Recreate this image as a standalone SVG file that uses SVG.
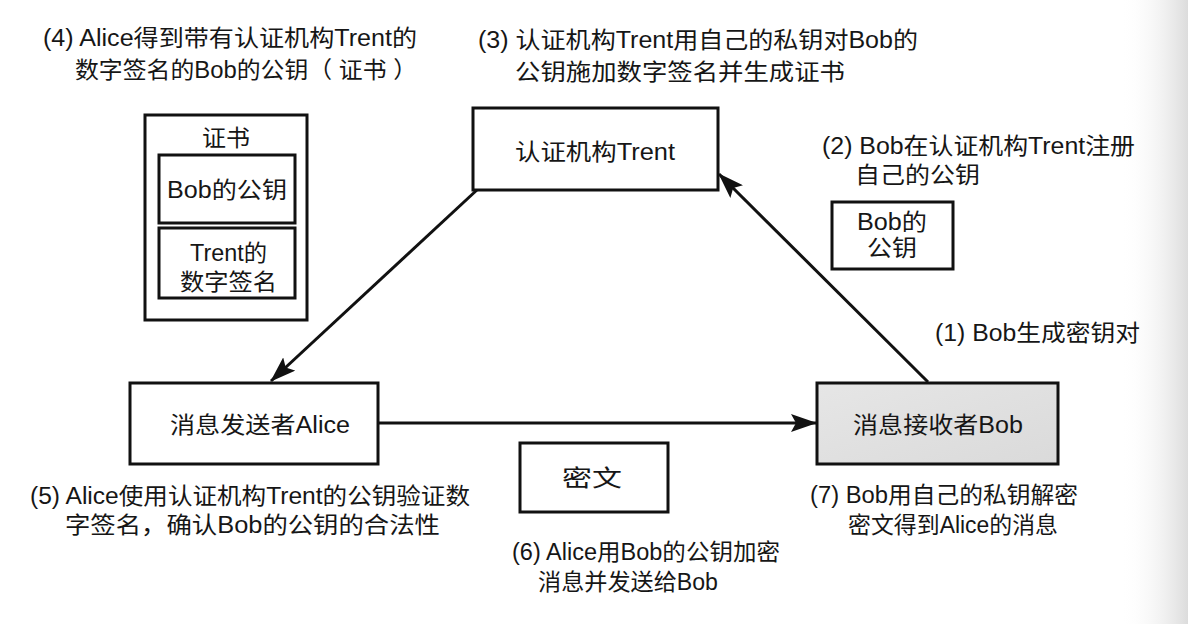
<svg xmlns="http://www.w3.org/2000/svg" width="1188" height="624" viewBox="0 0 1188 624">
<defs>
<linearGradient id="edge" x1="0" y1="0" x2="1" y2="0">
<stop offset="0" stop-color="#ffffff" stop-opacity="0"/>
<stop offset="1" stop-color="#dcdcdc"/>
</linearGradient>
<linearGradient id="gray" x1="0" y1="0" x2="1" y2="1">
<stop offset="0" stop-color="#e6e6e6"/>
<stop offset="1" stop-color="#dadada"/>
</linearGradient>
<marker id="ah" viewBox="0 0 26 18" refX="25" refY="9" markerWidth="26" markerHeight="18" markerUnits="userSpaceOnUse" orient="auto">
<path d="M0,0 L26,9 L0,18 L5,9 Z" fill="#111"/>
</marker>
</defs>
<style>
text{font-family:"Liberation Sans","Noto Sans CJK SC",sans-serif;font-size:23px;fill:#161616}
.box{fill:#fff;stroke:#111;stroke-width:3}
.conn{stroke:#111;stroke-width:3;fill:none;marker-end:url(#ah)}
</style>
<rect x="0" y="0" width="1188" height="624" fill="#fff"/>
<rect x="1120" y="0" width="68" height="624" fill="url(#edge)"/>

<g id="connectors">
<line class="conn" x1="478" y1="189" x2="271" y2="381"/>
<line class="conn" x1="928" y1="382" x2="719" y2="174"/>
<line class="conn" x1="379" y1="423" x2="816" y2="423"/>
</g>

<g id="trent">
<rect class="box" x="473" y="108" width="245" height="82"/>
<text x="515" y="160" textLength="160" lengthAdjust="spacingAndGlyphs">认证机构Trent</text>
</g>

<g id="alice">
<rect class="box" x="130" y="383" width="248" height="81"/>
<text x="170" y="433" textLength="180" lengthAdjust="spacingAndGlyphs">消息发送者Alice</text>
</g>

<g id="bob">
<rect x="817" y="383" width="241" height="81" fill="url(#gray)" stroke="#111" stroke-width="3"/>
<text x="853" y="433" textLength="170" lengthAdjust="spacingAndGlyphs">消息接收者Bob</text>
</g>

<g id="certificate">
<rect class="box" x="145" y="115" width="162" height="205"/>
<text x="202" y="146" textLength="48" lengthAdjust="spacingAndGlyphs">证书</text>
<rect class="box" x="159" y="155" width="136" height="68"/>
<text x="167" y="198" textLength="120" lengthAdjust="spacingAndGlyphs">Bob的公钥</text>
<rect class="box" x="159" y="228" width="136" height="70"/>
<text x="190" y="261" textLength="77" lengthAdjust="spacingAndGlyphs">Trent的</text>
<text x="180" y="290" textLength="97" lengthAdjust="spacingAndGlyphs">数字签名</text>
</g>

<g id="bobkey">
<rect class="box" x="832" y="202" width="121" height="67"/>
<text x="857" y="230" textLength="70" lengthAdjust="spacingAndGlyphs">Bob的</text>
<text x="867" y="256" textLength="50" lengthAdjust="spacingAndGlyphs">公钥</text>
</g>

<g id="ciphertext">
<rect class="box" x="520" y="443" width="148" height="69"/>
<text x="562" y="486" textLength="60" lengthAdjust="spacingAndGlyphs">密文</text>
</g>

<g id="labels">
<text x="43" y="46" textLength="374" lengthAdjust="spacingAndGlyphs">(4) Alice得到带有认证机构Trent的</text>
<text x="75" y="78" textLength="342" lengthAdjust="spacingAndGlyphs">数字签名的Bob的公钥（ 证书 ）</text>
<text x="478" y="48" textLength="440" lengthAdjust="spacingAndGlyphs">(3) 认证机构Trent用自己的私钥对Bob的</text>
<text x="515" y="80" textLength="330" lengthAdjust="spacingAndGlyphs">公钥施加数字签名并生成证书</text>
<text x="822" y="154" textLength="313" lengthAdjust="spacingAndGlyphs">(2) Bob在认证机构Trent注册</text>
<text x="855" y="183" textLength="125" lengthAdjust="spacingAndGlyphs">自己的公钥</text>
<text x="935" y="341" textLength="205" lengthAdjust="spacingAndGlyphs">(1) Bob生成密钥对</text>
<text x="30" y="504" textLength="440" lengthAdjust="spacingAndGlyphs">(5) Alice使用认证机构Trent的公钥验证数</text>
<text x="65" y="533" textLength="375" lengthAdjust="spacingAndGlyphs">字签名，确认Bob的公钥的合法性</text>
<text x="512" y="560" textLength="268" lengthAdjust="spacingAndGlyphs">(6) Alice用Bob的公钥加密</text>
<text x="538" y="590" textLength="180" lengthAdjust="spacingAndGlyphs">消息并发送给Bob</text>
<text x="810" y="503" textLength="268" lengthAdjust="spacingAndGlyphs">(7) Bob用自己的私钥解密</text>
<text x="848" y="533" textLength="210" lengthAdjust="spacingAndGlyphs">密文得到Alice的消息</text>
</g>
</svg>
